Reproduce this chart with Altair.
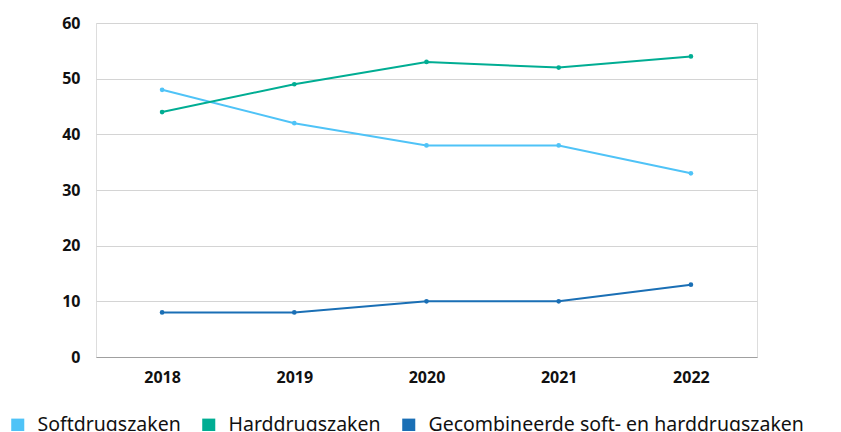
import altair as alt
import pandas as pd

years = ["2018", "2019", "2020", "2021", "2022"]
series_names = ["Softdrugszaken", "Harddrugszaken", "Gecombineerde soft- en harddrugszaken"]
soft = [48, 42, 38, 38, 33]
hard = [44, 49, 53, 52, 54]
combined = [8, 8, 10, 10, 13]
colors = ["#4FC3F7", "#00AD93", "#1A6FB5"]

rows = []
for name, vals in zip(series_names, [soft, hard, combined]):
    for y, v in zip(years, vals):
        rows.append({"jaar": y, "serie": name, "waarde": v})
df = pd.DataFrame(rows)

font = "Noto Sans"

x = alt.X("jaar:O", sort=years, title=None,
          scale=alt.Scale(type="point", padding=0.5),
          axis=alt.Axis(labelAngle=0, labelFont=font, labelFontSize=16, labelFontWeight="bold",
                        labelColor="#111111", ticks=False, domain=True, domainColor="#a0a0a0",
                        labelPadding=12))
y = alt.Y("waarde:Q", title=None,
          scale=alt.Scale(domain=[0, 60]),
          axis=alt.Axis(values=[0, 10, 20, 30, 40, 50, 60], labelFont=font, labelFontSize=16,
                        labelFontWeight="bold", labelColor="#111111", ticks=False, domain=False,
                        gridColor="#d4d4d4", labelPadding=16))
legend = alt.Legend(title=None, orient="none", legendX=-88, legendY=392,
                    direction="horizontal", symbolType="square", symbolSize=170,
                    symbolStrokeWidth=0, labelFont=font, labelFontSize=19.5,
                    labelColor="#111111", columnPadding=18, labelOffset=10,
                    labelLimit=600)
scale = alt.Scale(domain=series_names, range=colors)

lines = alt.Chart(df).mark_line(strokeWidth=2).encode(
    x=x, y=y, color=alt.Color("serie:N", sort=series_names, scale=scale, legend=None))
pts = alt.Chart(df).mark_point(size=22, filled=True, opacity=1, shape="circle").encode(
    x=x, y=y, color=alt.Color("serie:N", sort=series_names, scale=scale, legend=legend))

chart = (lines + pts).resolve_legend(color="independent").properties(
    width=661, height=334,
    autosize=alt.AutoSizeParams(type="none"),
    padding={"left": 88, "top": 15, "right": 76, "bottom": 74},
).configure_view(stroke=None).configure(background="white")

chart.save("out.html", embed_options={"renderer": "svg", "actions": False})
